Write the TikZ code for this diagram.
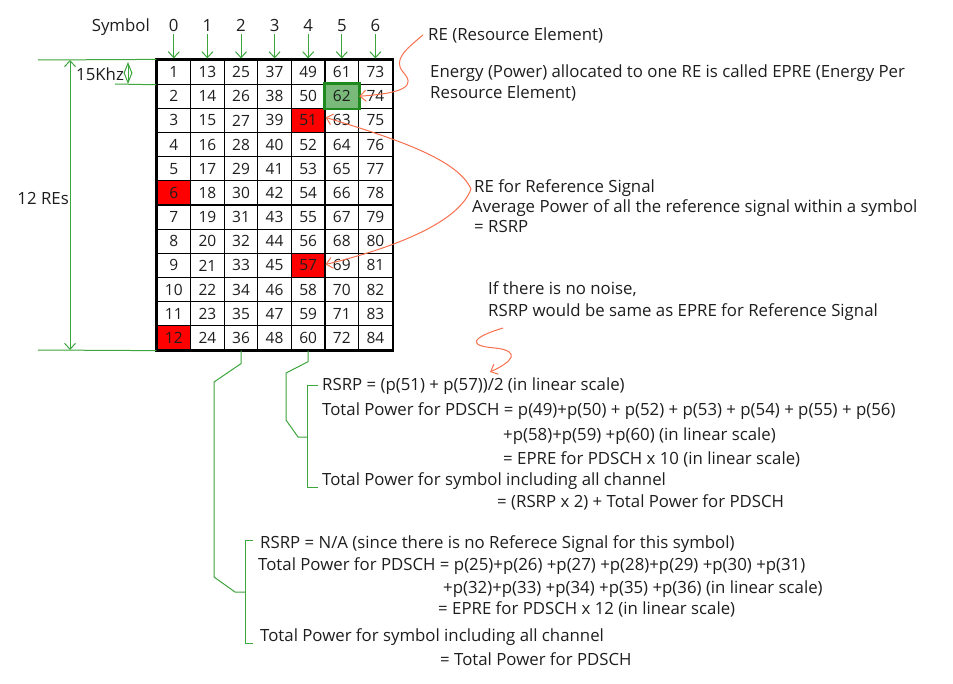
\documentclass[tikz,border=0pt]{standalone}
\usepackage{fontspec}
\setmainfont{Open Sans}
\usetikzlibrary{arrows.meta}
\definecolor{grn}{HTML}{3CA53C}
\definecolor{org}{HTML}{F7704E}
\definecolor{txt}{HTML}{1E1E1E}
\definecolor{cellgreen}{HTML}{79B979}
\definecolor{darkgrn}{HTML}{1E8A1E}
\begin{document}
\begin{tikzpicture}[x=1pt,y=-1pt,
  lbl/.style={font=\fontsize{16.8}{20}\selectfont, text=txt, inner sep=0pt, anchor=base west},
  cellnode/.style={draw=black, line width=1.2pt, minimum width=33.6pt, minimum height=24.17pt, inner sep=0pt, font=\fontsize{15.5}{18}\selectfont, text=txt},
  garrow/.style={draw=grn, line width=1pt, -{Straight Barb[length=6pt,width=11pt]}},
  gline/.style={draw=grn, line width=1pt},
  oarrow/.style={draw=org, line width=1pt, -{Straight Barb[length=6pt,width=11pt]}},
  fillc6/.style={fill=red},
  fillc12/.style={fill=red},
  fillc51/.style={fill=red},
  fillc57/.style={fill=red},
  fillc62/.style={fill=cellgreen}
]
\useasboundingbox (0,0) rectangle (953,684);

% grid
\foreach \c in {0,...,6}{
  \foreach \r in {1,...,12}{
    \pgfmathtruncatemacro\n{\c*12+\r}
    \node[cellnode, fillc\n/.try] (c\n) at ({157+33.6*(\c+0.5)},{60+24.17*(\r-0.5)}) {\n};
  }
}
\draw[line width=2pt] (c1.north west) rectangle (c84.south east);
\draw[darkgrn, line width=2.6pt] (c62.north west) rectangle (c62.south east);

% symbol header
\node[lbl, anchor=base east] (symlbl) at (150,32) {Symbol};
\foreach \c in {0,...,6}{
  \pgfmathtruncatemacro\m{\c*12+1}
  \node[lbl, anchor=base] (s\c) at ({157+33.6*(\c+0.5)},32) {\c};
  \draw[garrow, shorten >=1pt] ([yshift=-2pt]s\c.south) -- (c\m.north);
}

% left dimensions
\coordinate (topL) at (38,60);
\coordinate (botL) at (38,350);
\coordinate (khzL) at (115,84);
\draw[gline] (topL) -- (c1.north west);
\draw[gline] (botL) -- (c12.south west);
\draw[gline] (khzL) -- (c1.south west);
\coordinate (reTop) at (70,60);
\coordinate (reBot) at (70,350);
\draw[gline, {Straight Barb[length=6pt,width=11pt]}-{Straight Barb[length=6pt,width=11pt]}] (reTop) -- (reBot);
\node[lbl, anchor=east] (res) at (69,199) {12 REs};
\node[lbl, anchor=west] (khz) at (76,74) {15Khz};
\coordinate (khzTop) at (128,62);
\coordinate (khzBot) at (128,84);
\draw[gline, {Straight Barb[length=10pt,width=8pt]}-{Straight Barb[length=10pt,width=8pt]}] (khzTop) -- (khzBot);

% right texts
\node[lbl] (re) at (428,41) {RE (Resource Element)};
\node[lbl] (epre1) at (430,78) {Energy (Power) allocated to one RE is called EPRE (Energy Per};
\node[lbl] (epre2) at (430,99) {Resource Element)};
\node[lbl] (rs1) at (474,193) {RE for Reference Signal};
\node[lbl] (rs2) at (472,213) {Average Power of all the reference signal within a symbol};
\node[lbl] (rs3) at (474,233) {= RSRP};
\node[lbl] (nn1) at (488,295) {If there is no noise,};
\node[lbl] (nn2) at (488,317) {RSRP would be same as EPRE for Reference Signal};

% orange curves
\coordinate (reStart) at (423,35);
\draw[oarrow] (reStart) .. controls (405,50) and (393,60) .. (403,72)
  .. controls (416,86) and (405,93) .. (c62.east);
\coordinate (rsStart) at (471,189);
\draw[oarrow] (rsStart) .. controls (458,160) and (400,140) .. ([yshift=3pt]c51.east);
\draw[oarrow] (rsStart) .. controls (458,225) and (385,250) .. ([yshift=1pt]c57.east);
\coordinate (sqStart) at (503,328);
\draw[oarrow] (sqStart) .. controls (470,338) and (468,346) .. (495,348)
  .. controls (522,351) and (512,362) .. (490,372);

% connector 1 and brace
\coordinate (b1top) at (307,386);
\coordinate (b1mid) at (307,437);
\coordinate (b1bot) at (307,487);
\draw[gline] (c60.south) -- ++(0,11) -- (286,373) -- (286,420) -- (298,437) -- (b1mid);
\draw[gline] ([xshift=11pt]b1top) -- (b1top) -- (b1bot) -- ([xshift=11pt]b1bot);

\node[lbl] (a1) at (322,391) {RSRP = (p(51) + p(57))/2 (in linear scale)};
\node[lbl] (a2) at (322,416) {Total Power for PDSCH = p(49)+p(50) + p(52) + p(53) + p(54) + p(55) + p(56)};
\node[lbl] (a3) at (503,440) {+p(58)+p(59) +p(60) (in linear scale)};
\node[lbl] (a4) at (503,464) {= EPRE for PDSCH x 10 (in linear scale)};
\node[lbl] (a5) at (322,485) {Total Power for symbol including all channel};
\node[lbl] (a6) at (497,507) {= (RSRP x 2) + Total Power for PDSCH};

% connector 2 and brace
\coordinate (b2top) at (245,540);
\coordinate (b2mid) at (245,592);
\coordinate (b2bot) at (245,643);
\draw[gline] (c36.south) -- ++(0,13) -- (214,382) -- (214,577) -- (235,592) -- (b2mid);
\draw[gline] ([xshift=8pt]b2top) -- (b2top) -- (b2bot) -- ([xshift=8pt]b2bot);

\node[lbl] (d1) at (260,548) {RSRP = N/A (since there is no Referece Signal for this symbol)};
\node[lbl] (d2) at (258,570) {Total Power for PDSCH = p(25)+p(26) +p(27) +p(28)+p(29) +p(30) +p(31)};
\node[lbl] (d3) at (443,593) {+p(32)+p(33) +p(34) +p(35) +p(36) (in linear scale)};
\node[lbl] (d4) at (438,614) {= EPRE for PDSCH x 12 (in linear scale)};
\node[lbl] (d5) at (260,641) {Total Power for symbol including all channel};
\node[lbl] (d6) at (440,665) {= Total Power for PDSCH};
\end{tikzpicture}
\end{document}
